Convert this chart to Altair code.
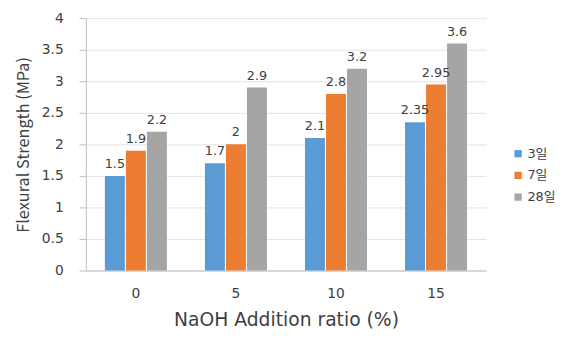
import altair as alt
import pandas as pd

categories = ["0", "5", "10", "15"]
series = ["3일", "7일", "28일"]
v3 = [1.5, 1.7, 2.1, 2.35]
v7 = [1.9, 2.0, 2.8, 2.95]
v28 = [2.2, 2.9, 3.2, 3.6]
labels3 = ["1.5", "1.7", "2.1", "2.35"]
labels7 = ["1.9", "2", "2.8", "2.95"]
labels28 = ["2.2", "2.9", "3.2", "3.6"]
colors = ["#5B9BD5", "#ED7D31", "#A5A5A5"]

rows = []
for vals, labs, s in [(v3, labels3, series[0]), (v7, labels7, series[1]), (v28, labels28, series[2])]:
    for c, v, l in zip(categories, vals, labs):
        rows.append({"ratio": c, "age": s, "value": v, "label": l})
df = pd.DataFrame(rows)

WIDE = "DejaVu Sans, Noto Sans CJK KR"
CJK = "Noto Sans CJK KR"
TXT = "#404040"

x = alt.X("ratio:N", sort=categories, scale=alt.Scale(paddingInner=0.38, paddingOuter=0.19),
          axis=alt.Axis(title="NaOH Addition ratio (%)", labelAngle=0, ticks=False,
                        labelPadding=16, titlePadding=11, labelFontSize=14, labelFont=WIDE,
                        titleFont=WIDE, titleFontSize=19, titleFontWeight="normal",
                        domainColor="#BFBFBF", labelColor=TXT, titleColor=TXT))
xo = alt.XOffset("age:N", sort=series, scale=alt.Scale(paddingInner=0.05))
y = alt.Y("value:Q", scale=alt.Scale(domain=[0, 4]),
          axis=alt.Axis(title="Flexural Strength (MPa)", values=[0, 0.5, 1, 1.5, 2, 2.5, 3, 3.5, 4],
                        format="~g", labelFontSize=14, labelFont=WIDE,
                        titleFont=CJK, titleFontSize=16.5, titleFontWeight="normal",
                        tickSize=7, tickColor="#BFBFBF", domainColor="#BFBFBF",
                        gridColor="#E3E3E3", labelPadding=16, titlePadding=10,
                        labelColor=TXT, titleColor=TXT))
color = alt.Color("age:N", sort=series, scale=alt.Scale(domain=series, range=colors),
                  legend=alt.Legend(title=None, orient="none", legendX=432, legendY=131,
                                    symbolType="square", symbolSize=55, labelFontSize=13,
                                    labelFont=WIDE, labelOffset=3, labelLimit=200,
                                    labelColor=TXT, rowPadding=8, symbolStrokeWidth=0))

base = alt.Chart(df).encode(x=x, xOffset=xo, y=y)
bars = base.mark_bar().encode(color=color)
text = base.mark_text(baseline="bottom", dy=-5, fontSize=13, color=TXT, font=WIDE).encode(text="label:N")

chart = (bars + text).properties(
    width=406, height=256,
    autosize=alt.AutoSizeParams(type="none"),
    padding={"left": 79, "top": 8, "right": 73, "bottom": 58},
).configure(font=WIDE).configure_view(stroke=None).configure_axisX(grid=False)

chart.save("out.html", embed_options={"renderer": "svg", "actions": False})
